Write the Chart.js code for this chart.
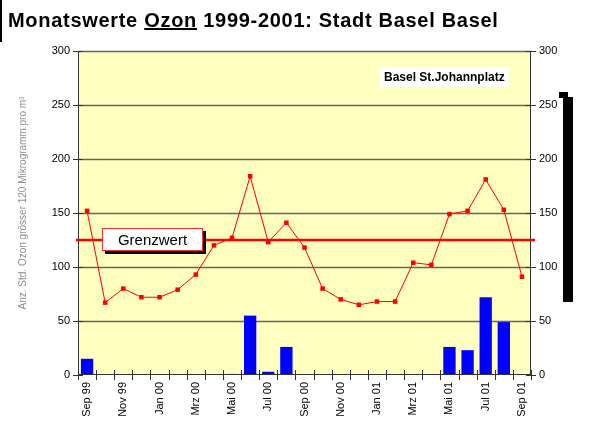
<!DOCTYPE html>
<html>
<head>
<meta charset="utf-8">
<script src="https://cdn.jsdelivr.net/npm/chart.js@4.4.0/dist/chart.umd.min.js"></script>
<style>
    html, body { margin: 0; padding: 0; background: #fff; }
    #wrap { position: relative; width: 591px; height: 424px; }
    #title {
        position: absolute; left: 8px; top: 9px;
        font: bold 20px "Liberation Sans", Arial, sans-serif; color: #000;
        letter-spacing: 0.7px;
        white-space: nowrap;
    }
    #edge { position: absolute; left: 0; top: 0; width: 2px; height: 42px; background: #000; }
    #bar1 { position: absolute; left: 563px; top: 97px; width: 10px; height: 205px; background: #000; }
    #bar2 { position: absolute; left: 559px; top: 92px; width: 9px; height: 6px; background: #000; }
</style>
</head>
<body>
<div id="wrap">
    <canvas id="chart" width="591" height="424"></canvas>
    <div id="edge"></div>
    <div id="title">Monatswerte <u>Ozon</u> 1999-2001: Stadt Basel Basel</div>
    <div id="bar1"></div>
    <div id="bar2"></div>
</div>
<script>
const months = [
    "Sep 99", "Okt 99", "Nov 99", "Dez 99", "Jan 00", "Feb 00", "Mrz 00", "Apr 00", "Mai 00",
    "Jun 00", "Jul 00", "Aug 00", "Sep 00", "Okt 00", "Nov 00", "Dez 00", "Jan 01", "Feb 01",
    "Mrz 01", "Apr 01", "Mai 01", "Jun 01", "Jul 01", "Aug 01", "Sep 01",
];
// Monatsmaximum (Linie)
const ozonMax = [152, 67, 80, 72, 72, 79, 93, 120, 127, 184, 123, 141, 118, 80, 70, 65, 68, 68, 104, 102, 149, 152, 181, 153, 91];
// Anzahl Stunden > 120 (Balken)
const stundenUeber = [15, 0, 0, 0, 0, 0, 0, 0, 1, 55, 3, 26, 0, 0, 0, 0, 0, 0, 0, 0, 26, 23, 72, 49, 0];
const grenzwert = 125;
const yTicks = [0, 50, 100, 150, 200, 250, 300];
const stationName = "Basel St.Johannplatz";
const yTitle = "Anz. Std. Ozon grösser 120 Mikrogramm pro m³";

const font = "'Liberation Sans', Arial, sans-serif";

const extrasPlugin = {
    id: "extras",
    beforeDatasetsDraw(chart) {
        const { ctx, chartArea } = chart;
        ctx.save();
        ctx.fillStyle = "#FFFFC0";
        ctx.fillRect(chartArea.left, chartArea.top, chartArea.right - chartArea.left, chartArea.bottom - chartArea.top);
        // grid lines
        const y = chart.scales.y;
        ctx.strokeStyle = "#66665a";
        ctx.lineWidth = 1.5;
        yTicks.forEach((v) => {
            if (v === 0) return;
            const py = Math.round(y.getPixelForValue(v)) + 0.5;
            ctx.beginPath();
            ctx.moveTo(chartArea.left, py);
            ctx.lineTo(chartArea.right, py);
            ctx.stroke();
        });
        ctx.restore();
    },
    afterDatasetsDraw(chart) {
        const { ctx, chartArea } = chart;
        const y = chart.scales.y;
        ctx.save();

        // axis lines with ticks crossing
        ctx.strokeStyle = "#333";
        ctx.lineWidth = 1;
        ctx.beginPath();
        ctx.moveTo(chartArea.left + 0.5, chartArea.top);
        ctx.lineTo(chartArea.left + 0.5, chartArea.bottom);
        ctx.moveTo(chartArea.right - 0.5, chartArea.top);
        ctx.lineTo(chartArea.right - 0.5, chartArea.bottom);
        ctx.moveTo(chartArea.left, chartArea.bottom - 0.5);
        ctx.lineTo(chartArea.right, chartArea.bottom - 0.5);
        yTicks.forEach((v) => {
            const py = Math.round(y.getPixelForValue(v)) + 0.5;
            ctx.moveTo(chartArea.left - 5, py);
            ctx.lineTo(chartArea.left + 5, py);
            ctx.moveTo(chartArea.right - 5, py);
            ctx.lineTo(chartArea.right + 5, py);
        });
        const step = (chartArea.right - chartArea.left) / months.length;
        for (let i = 0; i <= months.length; i++) {
            const px = Math.round(chartArea.left + i * step) + 0.5;
            ctx.moveTo(px, chartArea.bottom - 5);
            ctx.lineTo(px, chartArea.bottom + 5);
        }
        ctx.stroke();

        // Grenzwert line
        const gy = y.getPixelForValue(grenzwert);
        ctx.strokeStyle = "#FF0000";
        ctx.lineWidth = 2.5;
        ctx.beginPath();
        ctx.moveTo(chartArea.left - 2, gy);
        ctx.lineTo(chartArea.right + 4, gy);
        ctx.stroke();
        ctx.restore();
    },
    afterDraw(chart) {
        const { ctx } = chart;
        const y = chart.scales.y;
        const gy = y.getPixelForValue(grenzwert);
        ctx.save();

        // Grenzwert label box
        const bx = 102, bw = 101, bh = 23, by = gy - 12;
        ctx.fillStyle = "#000";
        ctx.fillRect(bx + 3, by + 3, bw, bh);
        ctx.fillStyle = "#fff";
        ctx.fillRect(bx, by, bw, bh);
        ctx.strokeStyle = "#FF3030";
        ctx.lineWidth = 1;
        ctx.strokeRect(bx + 0.5, by + 0.5, bw - 1, bh - 1);
        ctx.fillStyle = "#000";
        ctx.font = "15px " + font;
        ctx.textAlign = "center";
        ctx.textBaseline = "middle";
        ctx.fillText("Grenzwert", bx + bw / 2, by + bh / 2 + 1);

        // station label
        ctx.font = "bold 12px " + font;
        const tw = ctx.measureText(stationName).width;
        ctx.fillStyle = "#fff";
        ctx.fillRect(380, 68, tw + 8, 19);
        ctx.fillStyle = "#000";
        ctx.textAlign = "left";
        ctx.fillText(stationName, 384, 78);

        // y axis title
        ctx.translate(23, 203);
        ctx.rotate(-Math.PI / 2);
        ctx.font = "10px " + font;
        ctx.fillStyle = "#8c8c8c";
        ctx.textAlign = "center";
        ctx.fillText(yTitle, 0, 0);
        ctx.restore();
    },
};

const tickFont = { family: font, size: 11 };

new Chart(document.getElementById("chart"), {
    data: {
        labels: months,
        datasets: [
            {
                type: "line",
                data: ozonMax,
                borderColor: "#FF0000",
                backgroundColor: "#FF0000",
                borderWidth: 1,
                pointStyle: "rect",
                pointRadius: 3.2,
                pointBorderWidth: 0,
                tension: 0,
                order: 1,
            },
            {
                type: "bar",
                data: stundenUeber,
                backgroundColor: "#0000FF",
                borderWidth: 0,
                categoryPercentage: 0.68,
                barPercentage: 1,
                order: 2,
            },
        ],
    },
    options: {
        responsive: false,
        animation: false,
        layout: { padding: { top: 51, left: 0, right: 0, bottom: 0 } },
        plugins: { legend: { display: false }, tooltip: { enabled: false } },
        scales: {
            x: {
                offset: true,
                grid: { display: false },
                border: { display: false },
                afterFit(scale) { scale.height = 49; },
                ticks: {
                    autoSkip: false,
                    maxRotation: 90,
                    minRotation: 90,
                    padding: -1,
                    color: "#000",
                    font: tickFont,
                    callback(value, index) { return index % 2 === 0 ? months[index] : ""; },
                },
            },
            y: {
                position: "left",
                min: 0, max: 300,
                grid: { display: false },
                border: { display: false },
                afterFit(scale) { scale.width = 78; },
                ticks: { stepSize: 50, padding: 0, color: "#000", font: tickFont },
            },
            y2: {
                position: "right",
                min: 0, max: 300,
                grid: { display: false },
                border: { display: false },
                afterFit(scale) { scale.width = 60; },
                ticks: { stepSize: 50, padding: 0, color: "#000", font: tickFont },
            },
        },
    },
    plugins: [extrasPlugin],
});
</script>
</body>
</html>
